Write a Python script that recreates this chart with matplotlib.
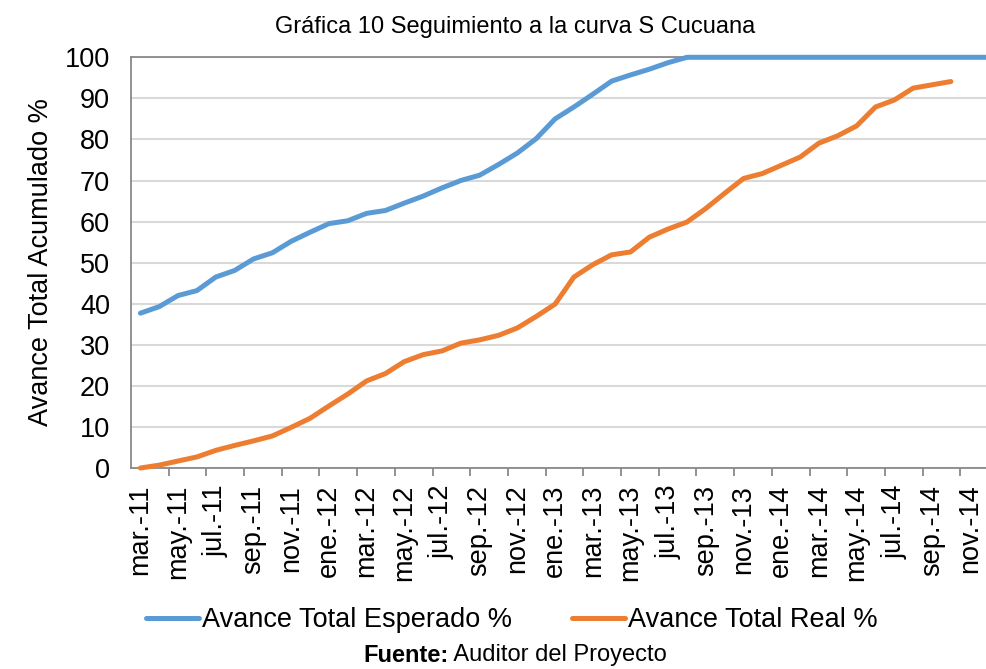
import matplotlib
matplotlib.use("Agg")
import matplotlib.pyplot as plt
from matplotlib.lines import Line2D

plt.rcParams['font.family'] = ['Liberation Sans', 'DejaVu Sans']

meses = ['mar', 'abr', 'may', 'jun', 'jul', 'ago', 'sep', 'oct', 'nov', 'dic', 'ene', 'feb']
categorias = []
anio = 11
for k in range(46):
    m = meses[k % 12]
    if m == 'ene':
        anio += 1
    categorias.append(f"{m}.-{anio}")

esperado = [37.7, 39.3, 42.0, 43.2, 46.5, 48.1, 50.9, 52.4, 55.2, 57.4,
            59.5, 60.2, 62.0, 62.7, 64.5, 66.2, 68.2, 70.0, 71.3, 73.9,
            76.7, 80.2, 85.0, 87.9, 91.0, 94.2, 95.7, 97.1, 98.7, 100.0,
            100.0, 100.0, 100.0, 100.0, 100.0, 100.0, 100.0, 100.0, 100.0, 100.0,
            100.0, 100.0, 100.0, 100.0, 100.0, 100.0]
real = [0.0, 0.7, 1.7, 2.7, 4.3, 5.5, 6.6, 7.8, 9.9, 12.1,
        15.1, 18.0, 21.2, 23.0, 25.9, 27.6, 28.5, 30.4, 31.2, 32.3,
        34.1, 36.9, 39.9, 46.5, 49.5, 51.9, 52.6, 56.2, 58.2, 59.9,
        63.2, 66.9, 70.5, 71.7, 73.7, 75.7, 79.1, 80.9, 83.3, 87.9,
        89.6, 92.5, 93.3, 94.1]

W, H = 986, 669
fig = plt.figure(figsize=(W / 100, H / 100), dpi=100)
left, right, top, bottom = 131, 998, 57.3, 468
ax = fig.add_axes([left / W, 1 - bottom / H, (right - left) / W, (bottom - top) / H])

x_e = list(range(len(esperado)))
x_r = list(range(len(real)))
ax.plot(x_e, esperado, color='#5B9BD5', lw=3.6, solid_capstyle='round', solid_joinstyle='round', zorder=3, clip_on=False)
ax.plot(x_r, real, color='#ED7D31', lw=3.6, solid_capstyle='round', solid_joinstyle='round', zorder=3, clip_on=False)

ax.set_xlim(-0.5, len(categorias) - 0.5)
ax.set_ylim(0, 100)
ax.set_yticks(range(0, 101, 10))
ax.yaxis.grid(True, color='#D9D9D9', lw=1.5)
ax.set_axisbelow(True)

ax.set_xticks(range(0, len(categorias), 2))
ax.set_xticklabels(categorias[::2], rotation=90)
ax.set_xticks([i - 0.5 for i in range(2, len(categorias) + 1, 2)], minor=True)
ax.tick_params(axis='x', which='major', length=0, pad=12, labelsize=19.5)
ax.tick_params(axis='x', which='minor', length=6, width=1.3, color='#898989', direction='out')
ax.tick_params(axis='y', length=0, pad=15, labelsize=19.5)

for s in ax.spines.values():
    s.set_color('#898989')
    s.set_linewidth(1.3)

fig.text(41 / W, 1 - 262 / H, 'Avance Total Acumulado %', rotation=90, ha='center', va='center', fontsize=19.5)
fig.text(515 / W, 1 - 27 / H, 'Gráfica 10 Seguimiento a la curva S Cucuana', ha='center', va='center', fontsize=17)

handles = [Line2D([], [], color='#5B9BD5', lw=3.6, solid_capstyle='round'),
           Line2D([], [], color='#ED7D31', lw=3.6, solid_capstyle='round')]
fig.legend(handles, ['Avance Total Esperado %', 'Avance Total Real %'], loc='center',
           bbox_to_anchor=(512 / W, 1 - 620 / H), ncol=2, frameon=False, fontsize=19.5,
           handlelength=1.95, handletextpad=0.12, columnspacing=2.2, borderpad=0)

t1 = fig.text(0.5, 1 - 655 / H, 'Fuente:', fontweight='bold', ha='left', va='center', fontsize=17)
t2 = fig.text(0.5, 1 - 655 / H, ' Auditor del Proyecto', ha='left', va='center', fontsize=17)
fig.canvas.draw()
r = fig.canvas.get_renderer()
w1 = t1.get_window_extent(r).width
w2 = t2.get_window_extent(r).width
x0 = 515 - (w1 + w2) / 2
t1.set_x(x0 / W)
t2.set_x((x0 + w1) / W)

fig.savefig('out.png', dpi=100)
